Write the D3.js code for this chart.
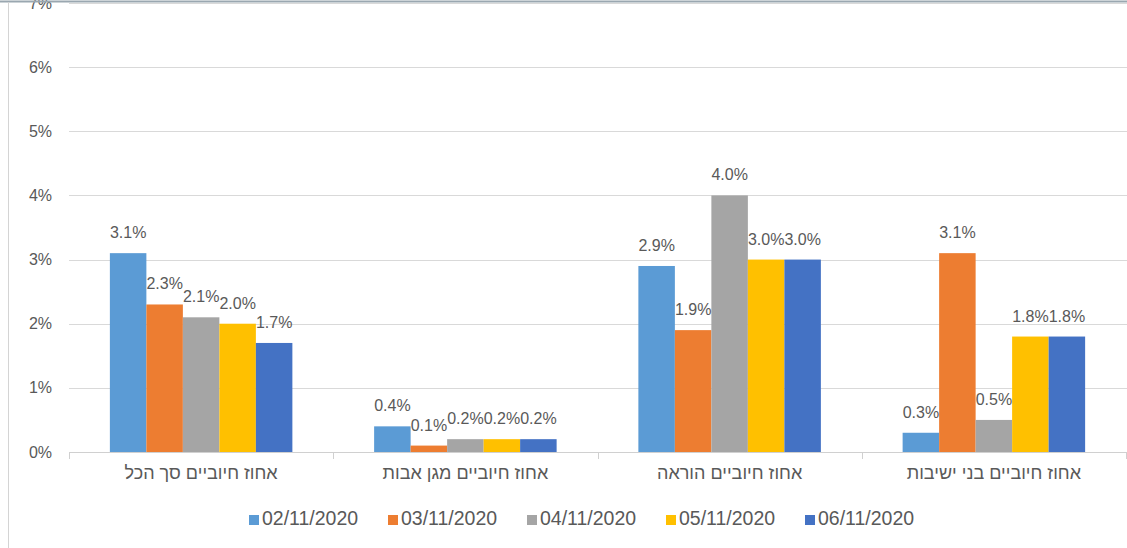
<!DOCTYPE html>
<html>
<head>
<meta charset="utf-8">
<script src="https://cdn.jsdelivr.net/npm/d3@7"></script>
<style>
  body { margin: 0; background: #fff; }
  text { font-family: "Liberation Sans", Arial, sans-serif; fill: #595959; }
</style>
</head>
<body>
<svg id="chart" width="1127" height="548"></svg>
<script>
// categories left to right as drawn
const categories = [
  'אחוז חיוביים סך הכל',
  'אחוז חיוביים מגן אבות',
  'אחוז חיוביים הוראה',
  'אחוז חיוביים בני ישיבות'
];
const dates = ['02/11/2020', '03/11/2020', '04/11/2020', '05/11/2020', '06/11/2020'];
const colors = ['#5B9BD5', '#ED7D31', '#A5A5A5', '#FFC000', '#4472C4'];
// values in percent, one array per date
const s0211 = [3.1, 0.4, 2.9, 0.3];
const s0311 = [2.3, 0.1, 1.9, 3.1];
const s0411 = [2.1, 0.2, 4.0, 0.5];
const s0511 = [2.0, 0.2, 3.0, 1.8];
const s0611 = [1.7, 0.2, 3.0, 1.8];
const series = [s0211, s0311, s0411, s0511, s0611];
const yTicks = [0, 1, 2, 3, 4, 5, 6, 7];

const svg = d3.select('#chart');
const W = 1127, H = 548;
const m = { left: 69, right: 1, top: 3, bottom: 96 };

const x0 = d3.scaleBand().domain(categories).range([m.left, W - m.right]).paddingInner(0).paddingOuter(0);
const y = d3.scaleLinear().domain([0, 7]).range([H - m.bottom, m.top]);

const bw = 36.5;
const groupW = bw * dates.length;
const x1 = d3.scaleBand().domain(d3.range(dates.length))
  .range([(x0.bandwidth() - groupW) / 2, (x0.bandwidth() + groupW) / 2]);

// grid
svg.append('g').selectAll('line').data(yTicks.filter(d => d > 0)).enter().append('line')
  .attr('x1', m.left).attr('x2', W).attr('y1', d => Math.round(y(d)) + 0.5).attr('y2', d => Math.round(y(d)) + 0.5)
  .attr('stroke', '#d9d9d9').attr('stroke-width', 1);

// y labels
svg.append('g').selectAll('text').data(yTicks).enter().append('text')
  .attr('x', 52).attr('y', d => y(d)).attr('dy', '0.35em')
  .attr('text-anchor', 'end').attr('font-size', '16px')
  .text(d => d + '%');

// bars
const groups = svg.append('g').selectAll('g').data(categories).enter().append('g')
  .attr('transform', d => `translate(${x0(d)},0)`);

groups.selectAll('rect').data((c, ci) => series.map((s, si) => ({ si, v: s[ci] }))).enter().append('rect')
  .attr('x', d => x1(d.si)).attr('width', x1.bandwidth())
  .attr('y', d => y(d.v)).attr('height', d => y(0) - y(d.v))
  .attr('fill', d => colors[d.si]);

groups.selectAll('text.val').data((c, ci) => series.map((s, si) => ({ si, v: s[ci] }))).enter().append('text')
  .attr('class', 'val')
  .attr('x', d => x1(d.si) + x1.bandwidth() / 2).attr('y', d => y(d.v) - 15)
  .attr('text-anchor', 'middle').attr('font-size', '16px')
  .text(d => d.v.toFixed(1) + '%');

// x axis
const xa = svg.append('g');
xa.append('line').attr('x1', m.left).attr('x2', W).attr('y1', y(0) + 0.5).attr('y2', y(0) + 0.5)
  .attr('stroke', '#d0d0d0');
xa.selectAll('line.tick').data(categories.concat(['end'])).enter().append('line')
  .attr('class', 'tick')
  .attr('x1', (d, i) => Math.round(m.left + i * x0.bandwidth()) + 0.5)
  .attr('x2', (d, i) => Math.round(m.left + i * x0.bandwidth()) + 0.5)
  .attr('y1', y(0)).attr('y2', y(0) + 7)
  .attr('stroke', '#d0d0d0');
xa.selectAll('text').data(categories).enter().append('text')
  .attr('x', d => x0(d) + x0.bandwidth() / 2).attr('y', y(0) + 27)
  .attr('text-anchor', 'middle').attr('font-size', '18px').attr('direction', 'rtl')
  .text(d => d);

// legend
const legX = 249, legStep = 139;
const leg = svg.append('g').selectAll('g').data(dates).enter().append('g')
  .attr('transform', (d, i) => `translate(${legX + i * legStep},${515})`);
leg.append('rect').attr('width', 10).attr('height', 10).attr('fill', (d, i) => colors[i]);
leg.append('text').attr('x', 13).attr('y', 10).attr('font-size', '19.5px').text(d => d);

// frame lines (drawn last, over the clipped top label)
svg.append('line').attr('x1', 0).attr('x2', W).attr('y1', 1.5).attr('y2', 1.5)
  .attr('stroke', '#9aa7b0').attr('stroke-width', 2);
svg.append('line').attr('x1', 8.5).attr('x2', 8.5).attr('y1', 2).attr('y2', H)
  .attr('stroke', '#d4d4d4').attr('stroke-width', 1);
</script>
</body>
</html>
